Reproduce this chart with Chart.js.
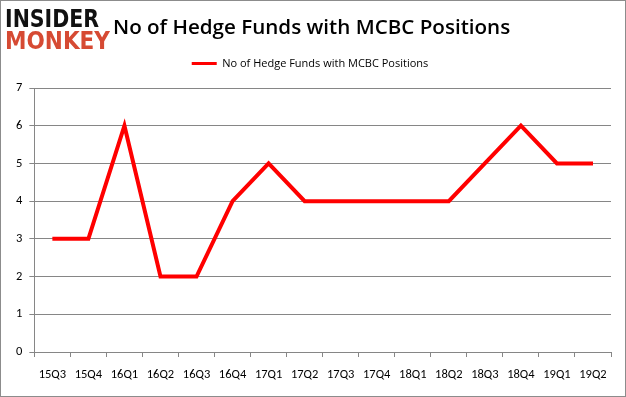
<!DOCTYPE html>
<html>
<head>
<meta charset="utf-8">
<script src="https://cdn.jsdelivr.net/npm/chart.js@4/dist/chart.umd.min.js"></script>
<style>
    html, body { margin: 0; padding: 0; background: #fff; }
    .frame { position: relative; width: 624px; height: 395px; border: 1px solid #8c8c8c; overflow: hidden; }
    #chart { position: absolute; left: 0; top: 0; }
    .logo span { position: absolute; font-family: "DejaVu Sans", sans-serif; font-weight: 900; font-size: 24px; line-height: 24px; white-space: nowrap; transform-origin: 0 0; }
    #logoTop { color: #111; left: 4px; top: 6px; }
    #logoBottom { color: #d64a33; left: 4px; top: 28px; }
    .title { position: absolute; left: 112px; top: 11px; font-family: "Open Sans", sans-serif; font-weight: 600; font-size: 20.6px; color: #000; white-space: nowrap; }
</style>
</head>
<body>
<div class="frame">
    <canvas id="chart" width="624" height="395"></canvas>
    <div class="logo"><span id="logoTop">INSIDER</span><span id="logoBottom">MONKEY</span></div>
    <div class="title">No of Hedge Funds with MCBC Positions</div>
</div>
<script>
const quarters = ['15Q3', '15Q4', '16Q1', '16Q2', '16Q3', '16Q4', '17Q1', '17Q2', '17Q3', '17Q4', '18Q1', '18Q2', '18Q3', '18Q4', '19Q1', '19Q2'];
const fundCounts = [3, 3, 6, 2, 2, 4, 5, 4, 4, 4, 4, 4, 5, 6, 5, 5];
const seriesLabel = 'No of Hedge Funds with MCBC Positions';

// squeeze the logo words to the widths seen in the original
function fitWidth(id, target) {
    const el = document.getElementById(id);
    const w = el.getBoundingClientRect().width;
    el.style.transform = 'scale(' + (target / w) + ', 1)';
}
fitWidth('logoTop', 94);
fitWidth('logoBottom', 105);

const tickFont = { family: 'Calibri, "Open Sans", sans-serif', size: 12.5 };

// extra room between the legend and the plot
const legendGap = {
    id: 'legendGap',
    beforeInit(chart) {
        const fit = chart.legend.fit;
        chart.legend.fit = function () {
            fit.call(this);
            this.height += 9;
        };
    }
};

new Chart(document.getElementById('chart'), {
    type: 'line',
    data: {
        labels: quarters,
        datasets: [{
            label: seriesLabel,
            data: fundCounts,
            borderColor: '#ff0000',
            backgroundColor: '#ff0000',
            borderWidth: 4,
            pointRadius: 0,
            tension: 0
        }]
    },
    options: {
        responsive: false,
        animation: false,
        layout: { padding: { top: 47, right: 14, left: 8, bottom: 4 } },
        plugins: {
            legend: {
                labels: {
                    boxWidth: 25, boxHeight: 0, color: '#000',
                    font: { family: '"Open Sans", sans-serif', size: 11 },
                    generateLabels: () => [{
                        text: seriesLabel, strokeStyle: '#ff0000', fillStyle: '#ff0000',
                        lineWidth: 3, hidden: false, datasetIndex: 0, fontColor: '#000'
                    }]
                }
            },
            tooltip: { enabled: false }
        },
        scales: {
            x: {
                offset: true,
                grid: { offset: true, drawOnChartArea: false, tickLength: 5, color: '#868686' },
                border: { color: '#868686' },
                ticks: { color: '#000', font: tickFont, padding: 10, maxRotation: 0 }
            },
            y: {
                min: 0, max: 7,
                ticks: { stepSize: 1, color: '#000', font: tickFont, padding: 7 },
                grid: { color: '#868686', tickLength: 5 },
                border: { color: '#868686' }
            }
        }
    },
    plugins: [legendGap]
});
</script>
</body>
</html>
